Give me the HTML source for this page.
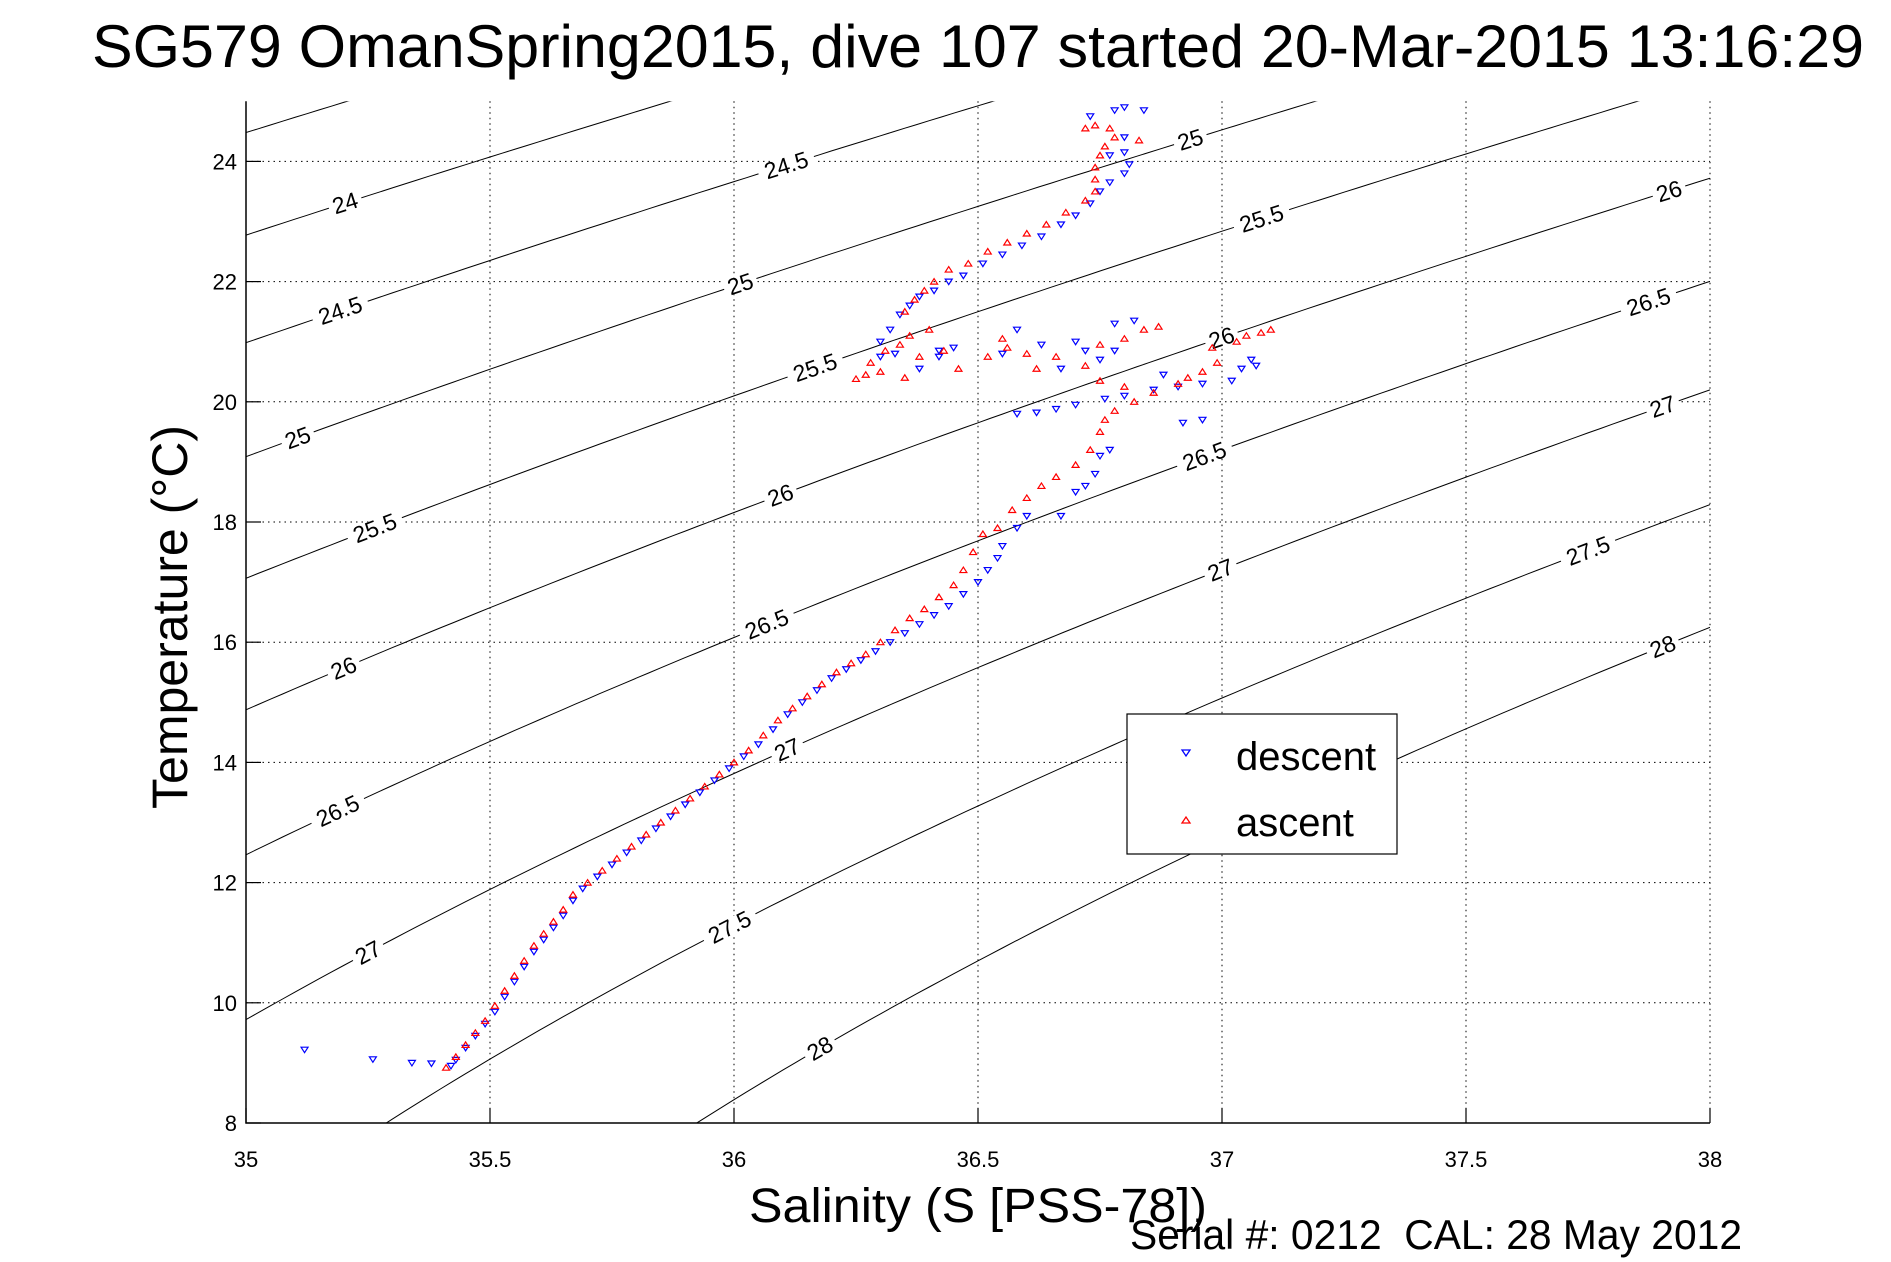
<!DOCTYPE html>
<html><head><meta charset="utf-8"><style>
html,body{margin:0;padding:0;background:#fff;overflow:hidden;width:1891px;height:1262px;}
svg{display:block;font-family:"Liberation Sans",sans-serif;}
</style></head><body>
<svg id="chart" width="1891" height="1262" viewBox="0 0 1891 1262" xmlns="http://www.w3.org/2000/svg" overflow="hidden">
<rect width="1891" height="1262" fill="#fff"/>
<text x="92" y="67" font-size="60" textLength="1772" lengthAdjust="spacingAndGlyphs">SG579 OmanSpring2015, dive 107 started 20-Mar-2015 13:16:29</text>
<text x="749" y="1222" font-size="48" textLength="458" lengthAdjust="spacingAndGlyphs">Salinity (S [PSS-78])</text>
<text x="1130" y="1249" font-size="42" textLength="612" lengthAdjust="spacingAndGlyphs">Serial #: 0212 &#160;CAL: 28 May 2012</text>
<text transform="translate(187,617) rotate(-90)" text-anchor="middle" font-size="50">Temperature (°C)</text>
<g id="grid"></g><g id="contours"></g><g id="clabels"></g><g id="pts"></g><g id="axes"></g>
<g>
<rect x="1127" y="714" width="270" height="140" fill="#fff" stroke="#000" stroke-width="1.2"/>
<path d="M1182,750 L1190,750 L1186,756 Z" fill="none" stroke="#00f" stroke-width="1.3"/>
<text x="1236" y="770" font-size="40">descent</text>
<path d="M1182,823 L1190,823 L1186,817 Z" fill="none" stroke="#f00" stroke-width="1.3"/>
<text x="1236" y="836" font-size="40">ascent</text>
</g>
</svg>
<script>
const xTicks=[35,35.5,36,36.5,37,37.5,38];
const xTickLabels=["35","35.5","36","36.5","37","37.5","38"];
const yTicks=[8,10,12,14,16,18,20,22,24];
const yTickLabels=["8","10","12","14","16","18","20","22","24"];
const sigmaLevels=[23.5,24,24.5,25,25.5,26,26.5,27,27.5,28];
const labelLevels=[24,24.5,24.5,25,25,25,25.5,25.5,25.5,26,26,26,26,26.5,26.5,26.5,26.5,27,27,27,27,27.5,27.5,28,28];
const labelSal=[35.203,35.193,36.107,35.106,36.013,36.935,35.264,36.166,37.081,35.200,36.095,36.999,37.916,35.188,36.067,36.964,37.874,35.250,36.109,36.997,37.903,35.991,37.750,36.176,37.903];
const descS=[35.12,35.26,35.34,35.38,35.42,35.43,35.45,35.47,35.49,35.51,35.53,35.55,35.57,35.59,35.61,35.63,35.65,35.67,35.69,35.72,35.75,35.78,35.81,35.84,35.87,35.90,35.93,35.96,35.99,36.02,36.05,36.08,36.11,36.14,36.17,36.20,36.23,36.26,36.29,36.32,36.35,36.38,36.41,36.44,36.47,36.50,36.52,36.54,36.55,36.58,36.60,36.67,36.72,36.74,36.77,36.75,36.70,36.58,36.62,36.66,36.70,36.76,36.80,36.86,36.91,36.96,37.02,37.04,37.07,37.06,36.92,36.96,36.88,36.75,36.72,36.70,36.78,36.82,36.63,36.55,36.45,36.42,36.33,36.30,36.38,36.42,36.58,36.67,36.78,36.30,36.32,36.34,36.36,36.38,36.41,36.44,36.47,36.51,36.55,36.59,36.63,36.67,36.70,36.73,36.75,36.77,36.80,36.81,36.80,36.77,36.80,36.78,36.80,36.84,36.73];
const descT=[9.22,9.06,9.0,8.99,8.95,9.05,9.25,9.45,9.65,9.85,10.1,10.35,10.6,10.85,11.05,11.25,11.45,11.7,11.9,12.1,12.3,12.5,12.7,12.9,13.1,13.3,13.5,13.7,13.9,14.1,14.3,14.55,14.8,15.0,15.2,15.4,15.55,15.7,15.85,16.0,16.15,16.3,16.45,16.6,16.8,17.0,17.2,17.4,17.6,17.9,18.1,18.1,18.6,18.8,19.2,19.1,18.5,19.8,19.82,19.88,19.95,20.05,20.1,20.2,20.25,20.3,20.35,20.55,20.6,20.7,19.65,19.7,20.45,20.7,20.85,21.0,21.3,21.35,20.95,20.8,20.9,20.85,20.8,20.75,20.55,20.75,21.2,20.55,20.85,21.0,21.2,21.45,21.6,21.75,21.85,22.0,22.1,22.3,22.45,22.6,22.75,22.95,23.1,23.3,23.5,23.65,23.8,23.95,24.15,24.1,24.4,24.85,24.9,24.85,24.75];
const ascS=[35.41,35.43,35.45,35.47,35.49,35.51,35.53,35.55,35.57,35.59,35.61,35.63,35.65,35.67,35.70,35.73,35.76,35.79,35.82,35.85,35.88,35.91,35.94,35.97,36.0,36.03,36.06,36.09,36.12,36.15,36.18,36.21,36.24,36.27,36.30,36.33,36.36,36.39,36.42,36.45,36.47,36.49,36.51,36.54,36.57,36.60,36.63,36.66,36.70,36.73,36.75,36.76,36.78,36.82,36.86,36.91,36.96,36.99,36.93,37.05,37.08,37.10,37.03,36.98,36.87,36.84,36.80,36.75,36.72,36.66,36.62,36.56,36.52,36.46,36.43,36.38,36.35,36.30,36.27,36.25,36.28,36.31,36.34,36.36,36.40,36.55,36.60,36.75,36.80,36.35,36.37,36.39,36.41,36.44,36.48,36.52,36.56,36.60,36.64,36.68,36.72,36.74,36.74,36.74,36.75,36.76,36.72,36.74,36.77,36.78,36.83];
const ascT=[8.92,9.1,9.3,9.5,9.7,9.95,10.2,10.45,10.7,10.95,11.15,11.35,11.55,11.8,12.0,12.2,12.4,12.6,12.8,13.0,13.2,13.4,13.6,13.8,14.0,14.2,14.45,14.7,14.9,15.1,15.3,15.5,15.65,15.8,16.0,16.2,16.4,16.55,16.75,16.95,17.2,17.5,17.8,17.9,18.2,18.4,18.6,18.75,18.95,19.2,19.5,19.7,19.85,20.0,20.15,20.3,20.5,20.65,20.4,21.1,21.15,21.2,21.0,20.9,21.25,21.2,21.05,20.95,20.6,20.75,20.55,20.9,20.75,20.55,20.85,20.75,20.4,20.5,20.45,20.38,20.65,20.85,20.95,21.1,21.2,21.05,20.8,20.35,20.25,21.5,21.7,21.85,22.0,22.2,22.3,22.5,22.65,22.8,22.95,23.15,23.35,23.5,23.7,23.9,24.1,24.25,24.55,24.6,24.55,24.4,24.35];

const X0=246,X1=1710,Y8=1123,PXT=60.1;
const sx=s=>X0+(s-35)*(X1-X0)/3;
const ty=t=>Y8-(t-8)*PXT;
const NS="http://www.w3.org/2000/svg";
function mk(tag,attrs,parent){const e=document.createElementNS(NS,tag);for(const k in attrs)e.setAttribute(k,attrs[k]);parent.appendChild(e);return e;}
function sigma(S,t){
 const rw=999.842594+6.793952e-2*t-9.095290e-3*t*t+1.001685e-4*t**3-1.120083e-6*t**4+6.536332e-9*t**5;
 const A=8.24493e-1-4.0899e-3*t+7.6438e-5*t*t-8.2467e-7*t**3+5.3875e-9*t**4;
 const B=-5.72466e-3+1.0227e-4*t-1.6546e-6*t*t;
 return rw+A*S+B*S**1.5+4.8314e-4*S*S-1000;}
function tOf(S,sg){let lo=-2,hi=40;for(let i=0;i<50;i++){const m=(lo+hi)/2;if(sigma(S,m)>sg)lo=m;else hi=m;}return (lo+hi)/2;}
const topY=ty(25);
const grid=document.getElementById('grid');
xTicks.forEach((v,i)=>{
 if(i>0){const g=mk('line',{x1:sx(v),x2:sx(v),y1:topY,y2:Y8,stroke:'#000','stroke-width':1,'stroke-dasharray':'1.5,4'},grid);
 
 }
 const t=mk('text',{x:sx(v),y:1167,'font-size':22,'text-anchor':'middle'},grid);t.textContent=xTickLabels[i];
 
 
 const tk=mk('line',{x1:sx(v),x2:sx(v),y1:Y8,y2:Y8-15,stroke:'#000','stroke-width':1.2},grid);
 
 
});
yTicks.forEach((v,i)=>{
 if(i>0){const g=mk('line',{x1:X0,x2:X1,y1:ty(v),y2:ty(v),stroke:'#000','stroke-width':1,'stroke-dasharray':'1.5,4'},grid);
 
 }
 const t=mk('text',{x:237,y:ty(v)+8,'font-size':22,'text-anchor':'end'},grid);t.textContent=yTickLabels[i];
 
 
 const tk=mk('line',{x1:X0,x2:X0+15,y1:ty(v),y2:ty(v),stroke:'#000','stroke-width':1.2},grid);
 
 
});
const axes=document.getElementById('axes');
const ax=mk('path',{d:`M${X0},${topY} L${X0},${Y8} L${X1},${Y8}`,fill:'none',stroke:'#000','stroke-width':1.5},axes);


const cg=document.getElementById('contours');
const defs=mk('defs',{},document.getElementById('chart'));
const cp=mk('clipPath',{id:'pc'},defs);mk('rect',{x:X0,y:topY,width:X1-X0,height:Y8-topY},cp);
cg.setAttribute('clip-path','url(#pc)');
sigmaLevels.forEach(l=>{
 let d='';for(let k=0;k<=120;k++){const S=35+k*3/120;d+=(k?'L':'M')+sx(S).toFixed(1)+','+ty(tOf(S,l)).toFixed(1);}
 const p=mk('path',{d:d,fill:'none',stroke:'#000','stroke-width':1},cg);
 
 
});
const lg=document.getElementById('clabels');
labelLevels.forEach((l,i)=>{
 const S=labelSal[i],x=sx(S),y=ty(tOf(S,l));
 const x2=sx(S+0.01),y2=ty(tOf(S+0.01,l));
 const ang=Math.atan2(y2-y,x2-x)*180/Math.PI;
 const g=mk('g',{transform:`translate(${x.toFixed(1)},${y.toFixed(1)}) rotate(${ang.toFixed(1)})`},lg);
 
 
 const txt=String(l);const w=txt.length*12+10;
 mk('rect',{x:-w/2,y:-8,width:w,height:16,fill:'#fff'},g);
 const t=mk('text',{x:0,y:8,'font-size':23,'text-anchor':'middle'},g);t.textContent=txt;
});
const pg=document.getElementById('pts');
descS.forEach((s,i)=>{const x=sx(s),y=ty(descT[i]);
 const p=mk('path',{d:`M${x-3.5},${y-2.5} L${x+3.5},${y-2.5} L${x},${y+3} Z`,fill:'none',stroke:'#00f','stroke-width':1.2},pg);
 
 });
ascS.forEach((s,i)=>{const x=sx(s),y=ty(ascT[i]);
 const p=mk('path',{d:`M${x-3.5},${y+2.5} L${x+3.5},${y+2.5} L${x},${y-3} Z`,fill:'none',stroke:'#f00','stroke-width':1.2},pg);
 
 });
</script>
</body></html>
